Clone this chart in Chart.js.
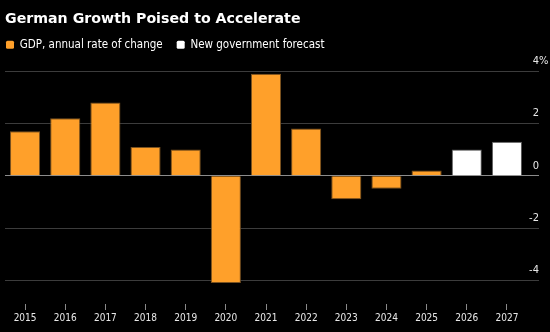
<!DOCTYPE html>
<html>
<head>
<meta charset="utf-8">
<script src="https://cdn.jsdelivr.net/npm/chart.js@4/dist/chart.umd.min.js"></script>
<style>
  html, body { margin: 0; padding: 0; background: #000; }
  canvas { display: block; }
</style>
</head>
<body>
<canvas id="c" width="550" height="332"></canvas>
<script>
// German GDP growth, annual % change, with the government's new forecast
const years = ['2015', '2016', '2017', '2018', '2019', '2020', '2021', '2022', '2023', '2024', '2025', '2026', '2027'];
const gdpActual = [1.7, 2.2, 2.8, 1.1, 1.0, -4.1, 3.9, 1.8, -0.9, -0.5, 0.2, null, null];
const govForecast = [null, null, null, null, null, null, null, null, null, null, null, 1.0, 1.3];
const yTicks = [-4, -2, 0, 2, 4];

const ORANGE = '#ffa02a';
const FONT = "'DejaVu Sans Condensed', 'DejaVu Sans', sans-serif";

// nudges the legend row so it lines up with the title's left edge
const legendShift = {
  id: 'legendShift',
  afterLayout(chart) {
    if (chart.legend) chart.legend.left -= 13;
  }
};

new Chart(document.getElementById('c'), {
  type: 'bar',
  data: {
    labels: years,
    datasets: [
      {
        label: 'GDP, annual rate of change',
        data: gdpActual,
        backgroundColor: ORANGE,
        borderColor: '#7a5220',
        borderWidth: 1
      },
      {
        label: 'New government forecast',
        data: govForecast,
        backgroundColor: '#ffffff',
        borderColor: '#5a5a5a',
        borderWidth: 1
      }
    ]
  },
  options: {
    responsive: false,
    animation: false,
    devicePixelRatio: 1,
    layout: { padding: { left: 5, right: 0, top: 0, bottom: 6 } },
    datasets: {
      bar: { grouped: false, barPercentage: 0.75, categoryPercentage: 1.0 }
    },
    plugins: {
      title: {
        display: true,
        text: 'German Growth Poised to Accelerate',
        align: 'start',
        color: '#ffffff',
        font: { family: "'DejaVu Sans', sans-serif", size: 14.2, weight: 'bold', lineHeight: 1.2 },
        padding: { top: 10.5, bottom: -2.5 }
      },
      legend: {
        display: true,
        align: 'start',
        labels: {
          color: '#ffffff',
          font: { family: FONT, size: 11.5 },
          boxWidth: 8,
          boxHeight: 8,
          useBorderRadius: true,
          borderRadius: 1.5,
          padding: 14,
          generateLabels(chart) {
            return Chart.defaults.plugins.legend.labels.generateLabels(chart).map(item => {
              item.lineWidth = 0;
              item.strokeStyle = item.fillStyle;
              return item;
            });
          }
        }
      },
      tooltip: { enabled: false }
    },
    scales: {
      x: {
        offset: true,
        border: { display: false },
        grid: {
          offset: false,
          drawOnChartArea: false,
          drawTicks: true,
          tickLength: 6,
          color: '#8a8a8a'
        },
        ticks: {
          color: '#e8e8e8',
          font: { family: FONT, size: 10 },
          padding: 2,
          maxRotation: 0,
          autoSkip: false
        }
      },
      y: {
        position: 'right',
        min: -4.9,
        max: 4.4,
        border: { display: false },
        afterFit(scale) {
          scale.width = 23;
          scale.paddingTop = 0;
          scale.paddingBottom = 0;
        },
        afterBuildTicks(scale) {
          scale.ticks = yTicks.map(v => ({ value: v }));
        },
        grid: {
          drawTicks: true,
          tickLength: 12,
          color: ctx => (ctx.tick && ctx.tick.value === 0) ? '#8c8c8c' : '#3c3c3c',
          lineWidth: 1
        },
        ticks: {
          mirror: true,
          padding: 21.4,
          labelOffset: -10,
          color: '#e8e8e8',
          font: { family: FONT, size: 11 },
          callback: v => (v === 4 ? '4%' : String(v) + '   ')
        }
      }
    }
  },
  plugins: [legendShift]
});
</script>
</body>
</html>
